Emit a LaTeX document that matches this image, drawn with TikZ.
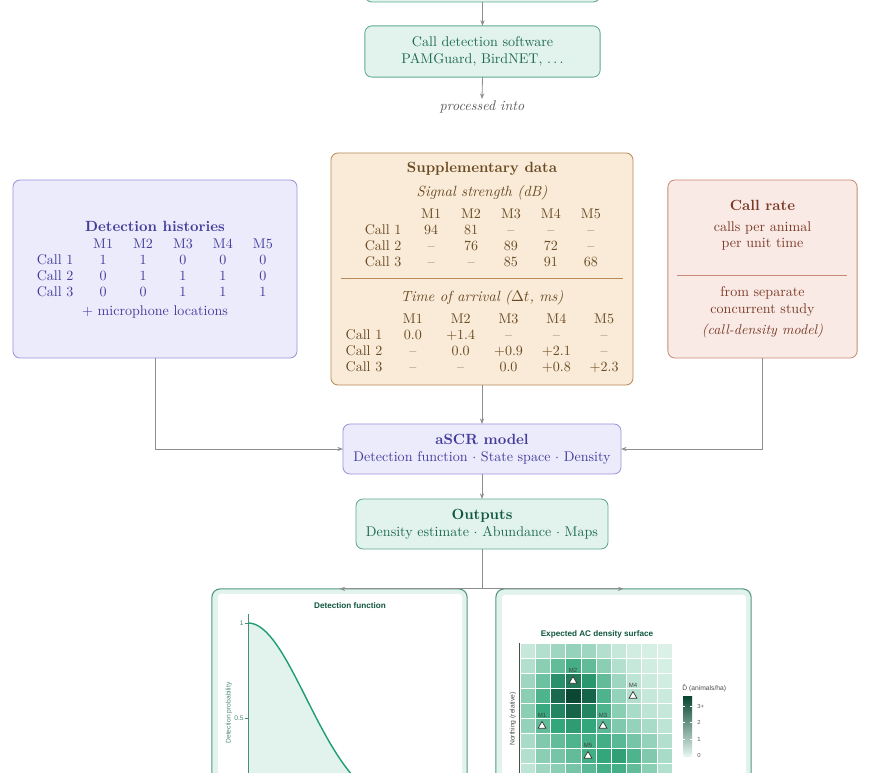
\documentclass[tikz,border=0pt]{standalone}
\usepackage{fontspec}
\usepackage{array}
\usepackage{tikz}
\usetikzlibrary{arrows.meta}
\usetikzlibrary{shapes.geometric}
\newfontfamily\plotfont{Liberation Sans}
\definecolor{grnline}{HTML}{5FAA8C}
\definecolor{grnfill}{HTML}{E1F3EC}
\definecolor{grntext}{HTML}{1F6A52}
\definecolor{grntitle}{HTML}{0F5641}
\definecolor{purline}{HTML}{9A94DE}
\definecolor{purfill}{HTML}{ECEBFB}
\definecolor{purtext}{HTML}{453C9A}
\definecolor{brnline}{HTML}{B88A57}
\definecolor{brnfill}{HTML}{F9EBD8}
\definecolor{brntext}{HTML}{6A4A22}
\definecolor{redline}{HTML}{C98B79}
\definecolor{redfill}{HTML}{F9EAE5}
\definecolor{redtext}{HTML}{7A3A26}
\definecolor{flowgray}{HTML}{8E8E8E}
\definecolor{curvegrn}{HTML}{1F9E74}
\definecolor{axisgrn}{HTML}{4B8C74}
\definecolor{dlow}{RGB}{228,245,238}
\definecolor{dmid}{RGB}{52,168,125}
\definecolor{dhigh}{RGB}{10,72,52}
\setlength{\tabcolsep}{0pt}
\renewcommand{\arraystretch}{0.95}
\newcommand{\titlesize}{\fontsize{10.5}{12.5}\selectfont}
\tikzstyle{box}=[draw, rounded corners=5pt, line width=0.6pt, inner sep=0, outer sep=0, align=center]
\tikzstyle{greenbox}=[box, draw=grnline, fill=grnfill, text=grntext]
\tikzstyle{purplebox}=[box, draw=purline, fill=purfill, text=purtext]
\tikzstyle{brownbox}=[box, draw=brnline, fill=brnfill, text=brntext]
\tikzstyle{redbox}=[box, draw=redline, fill=redfill, text=redtext]
\tikzstyle{panel}=[draw=grnline!90!black, fill=grnfill, rounded corners=6pt, line width=0.8pt,
                   minimum width=6.38cm, minimum height=6.38cm, inner sep=0, outer sep=0]
\tikzstyle{flow}=[draw=flowgray, line width=0.6pt, -{Stealth[length=4pt, width=3pt]}]
\tikzstyle{plottitle}=[font=\plotfont\bfseries\fontsize{5.8}{7}\selectfont, text=grntitle, inner sep=0]
\tikzstyle{plotlabel}=[font=\plotfont\fontsize{4.8}{6}\selectfont, inner sep=0]
\tikzstyle{mic}=[regular polygon, regular polygon sides=3, draw=black!80, fill=white, line width=0.5pt,
                 minimum size=6.5pt, inner sep=0]
\tikzstyle{miclabel}=[font=\plotfont\fontsize{4.3}{5}\selectfont, text=black!75, inner sep=0, label distance=1.8pt]
\tikzstyle{workflow}=[x=0.025cm, y=-0.025cm,
                      % text nodes inside the boxes
                      every node/.style={inner sep=1pt}]

\begin{document}
\begin{tikzpicture}[workflow]
    \useasboundingbox (0,0) rectangle (870,773);
    \clip (0,0) rectangle (870,773);

    % acquisition chain
    \node[greenbox, minimum width=5.88cm, minimum height=1.25cm] (rec) at (482.5,-23) {};
    \node[greenbox, minimum width=5.88cm, minimum height=1.28cm] (sw) at (482.5,51.5)
        {Call detection software\\PAMGuard, BirdNET, \(\ldots\)};
    \node[text=black!65, font=\itshape] (proc) at (482,107) {processed into};

    % the three inputs
    \node[purplebox, minimum width=7.1cm, minimum height=4.45cm] (hist) at (155,269) {};
    \node[text=purtext, font=\titlesize\bfseries] (histtitle) at (155,226) {Detection histories};
    \node[text=purtext] (histtab) at (155,269.5) {%
        \begin{tabular}{w{c}{39.8pt}*{5}{w{c}{28.4pt}}}
                & M1 & M2 & M3 & M4 & M5\\
         Call 1 & 1  & 1  & 0  & 0  & 0\\
         Call 2 & 0  & 1  & 1  & 1  & 0\\
         Call 3 & 0  & 0  & 1  & 1  & 1
        \end{tabular}};
    \node[text=purtext] (histnote) at (155,312) {\(+\) microphone locations};

    \node[brownbox, minimum width=7.55cm, minimum height=5.8cm] (supp) at (482,269) {};
    \node[text=brntext, font=\titlesize\bfseries] (supptitle) at (482,169) {Supplementary data};
    \node[text=brntext, font=\titlesize\itshape] (sigtitle) at (482,193) {Signal strength (dB)};
    \node[text=brntext] (sigtab) at (483,239) {%
        \begin{tabular}{w{c}{39.8pt}*{5}{w{c}{28.4pt}}}
                & M1 & M2 & M3 & M4 & M5\\
         Call 1 & 94 & 81 & -- & -- & --\\
         Call 2 & -- & 76 & 89 & 72 & --\\
         Call 3 & -- & -- & 85 & 91 & 68
        \end{tabular}};
    \draw[brnline, line width=0.5pt] (341,278) -- (623,278);
    \node[text=brntext, font=\titlesize\itshape] (toatitle) at (482,298) {Time of arrival (\(\Delta t\), ms)};
    \node[text=brntext] (toatab) at (483.5,344) {%
        \begin{tabular}{w{c}{35.6pt}*{5}{w{c}{34pt}}}
                & M1  & M2   & M3   & M4   & M5\\
         Call 1 & 0.0 & +1.4 & --   & --   & --\\
         Call 2 & --  & 0.0  & +0.9 & +2.1 & --\\
         Call 3 & --  & --   & 0.0  & +0.8 & +2.3
        \end{tabular}};

    \node[redbox, minimum width=4.73cm, minimum height=4.45cm] (rate) at (762.5,269) {};
    \node[text=redtext, font=\titlesize\bfseries] (ratetitle) at (762.5,205) {Call rate};
    \node[text=redtext, align=center] (ratedef) at (762.5,236) {calls per animal\\per unit time};
    \draw[redline, line width=0.5pt] (677,275) -- (847,275);
    \node[text=redtext, align=center] (ratesrc) at (762.5,301.5) {from separate\\concurrent study};
    \node[text=redtext, font=\itshape] (ratemodel) at (762.5,331) {(call-density model)};

    % model and outputs
    \node[purplebox, minimum width=6.95cm, minimum height=1.25cm] (ascr) at (482,449)
        {{\titlesize\bfseries aSCR model}\\Detection function \(\cdot\) State space \(\cdot\) Density};
    \node[greenbox, minimum width=6.3cm, minimum height=1.25cm] (out) at (482,524)
        {{\titlesize\bfseries\color{grntitle}Outputs}\\Density estimate \(\cdot\) Abundance \(\cdot\) Maps};

    % output panels
    \node[panel] (plotl) at (339.5,716.5) {};
    \node[panel] (plotr) at (623.5,716.5) {};
    \fill[white, rounded corners=2pt] (218,594) rectangle (462,900);
    \fill[white, rounded corners=2pt] (502,595) rectangle (746,900);

    % detection function
    \node[plottitle] (dftitle) at (350,606) {Detection function};
    \fill[grnfill] (248,813) -- plot[domain=248:460, samples=60] (\x,{813-190*exp(-0.5*((\x-248)/58)^2)}) -- (460,813) -- cycle;
    \draw[curvegrn, line width=1pt] plot[domain=248:460, samples=60] (\x,{813-190*exp(-0.5*((\x-248)/58)^2)});
    \draw[axisgrn, line width=0.6pt] (248,614) -- (248,800);
    \draw[axisgrn, line width=0.5pt] (245,623) -- (248,623) (245,718) -- (248,718);
    \node[plotlabel, text=axisgrn, anchor=east] (dfone) at (244,623) {1};
    \node[plotlabel, text=axisgrn, anchor=east] (dfhalf) at (244,718) {0.5};
    \node[plotlabel, text=axisgrn, rotate=90] (dfylab) at (229,713) {Detection probability};

    % density surface
    \node[plottitle] (acttitle) at (597,634) {Expected AC density surface};
    \foreach \rowvals [count=\j from 0] in {
        {0.3,0.5,0.7,0.8,0.7,0.5,0.3,0.2,0.15,0.1},
        {0.5,0.9,1.3,1.6,1.3,0.9,0.5,0.3,0.2,0.15},
        {0.7,1.2,2.2,2.6,2.1,1.3,0.7,0.4,0.25,0.2},
        {0.9,1.5,2.9,3.5,3.0,1.5,0.8,0.5,0.3,0.25},
        {0.9,1.7,2.4,3.0,2.4,1.5,0.9,0.6,0.4,0.3},
        {0.8,1.3,1.8,2.0,1.8,1.4,1.0,0.8,0.6,0.4},
        {0.6,1.0,1.3,1.5,1.6,1.6,1.4,1.1,0.8,0.5},
        {0.5,0.9,1.1,1.3,1.6,1.8,1.9,1.5,1.0,0.6},
        {0.4,0.7,0.9,1.1,1.4,1.6,1.6,1.3,0.9,0.5}}
    {
        \foreach \v [count=\i from 0] in \rowvals {
            \pgfmathtruncatemacro\lo{min(\v,1.75)/1.75*100}
            \pgfmathtruncatemacro\hi{max(\v-1.75,0)/1.75*100}
            \fill[dhigh!\hi!dmid!\lo!dlow, draw=white, line width=0.4pt]
                (520+15.2*\i,643+15*\j) rectangle ++(15.2,15);
        }
    }
    \draw[black!70, line width=0.7pt] (519,643) -- (519,800);
    \node[plotlabel, text=black!70, rotate=90] (northlab) at (513,719) {Northing (relative)};
    \foreach \m/\mx/\my in {M1/542/726, M2/573/681, M3/603/726, M4/633/696, M5/588/756}
        \node[mic, label={[miclabel]above:\m}] (\m) at (\mx,\my) {};

    % legend
    \node[plotlabel, text=black!70, anchor=west] (legtitle) at (682,688) {D\char"0302\ (animals/ha)};
    \shade[bottom color=dlow, middle color=dmid, top color=dhigh] (683,697) rectangle (692,756);
    \foreach \t/\ty in {3+/706, 2/722, 1/739, 0/755} {
        \draw[white, line width=0.4pt] (683,\ty) -- (685,\ty) (690,\ty) -- (692,\ty);
        \node[plotlabel, text=black!65, anchor=west, font=\plotfont\fontsize{4.2}{5}\selectfont] (leg\ty) at (697,\ty) {\t};
    }

    % connectors
    \draw[flow] (rec.south) -- (sw.north);
    \draw[flow] (sw.south) -- (proc.north);
    \draw[flow] (hist.south) |- (ascr.west);
    \draw[flow] (supp.south) -- (ascr.north);
    \draw[flow] (rate.south) |- (ascr.east);
    \draw[flow] (ascr.south) -- (out.north);
    \draw[flow] (out.south) |- (plotl.north);
    \draw[flow] (out.south) |- (plotr.north);
\end{tikzpicture}
\end{document}
